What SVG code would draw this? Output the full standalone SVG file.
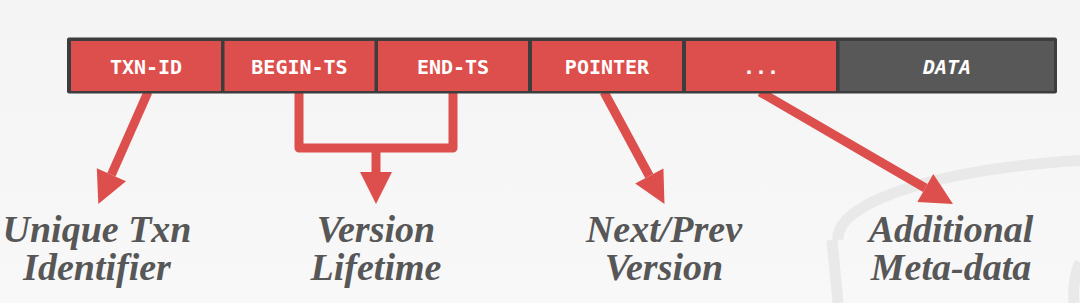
<svg xmlns="http://www.w3.org/2000/svg" width="1080" height="303" viewBox="0 0 1080 303">
  <defs>
    <linearGradient id="bg" x1="0" y1="0" x2="0" y2="1">
      <stop offset="0" stop-color="#f4f4f4"/>
      <stop offset="1" stop-color="#f8f8f8"/>
    </linearGradient>
    <style>
      .cell { fill: #dd4f4c; }
      .dark { fill: #585858; }
      .ctext { font-family: "DejaVu Sans Mono", "Liberation Mono", monospace; font-weight: bold; font-size: 20px; fill: #ffffff; text-anchor: middle; }
      .label { font-family: "Liberation Serif", "DejaVu Serif", serif; font-weight: bold; font-style: italic; font-size: 38px; fill: #575757; text-anchor: middle; }
      .wire { fill: none; stroke: #dd4f4c; stroke-width: 9; }
      .head { fill: #dd4f4c; }
      .wm { fill: none; stroke: #e9e9e9; stroke-width: 11; }
    </style>
  </defs>

  <rect width="1080" height="303" fill="url(#bg)"/>

  <!-- faint background watermark -->
  <g id="watermark">
    <path d="M832,240 L838,303" class="wm"/>
    <path d="M838,240 A315,80 0 0 1 1090,160" class="wm"/>
    <path d="M1080,262 Q1072,280 1074,303" class="wm" stroke-width="8"/>
  </g>

  <g id="connectors">
    <line x1="148" y1="92" x2="111.4" y2="174.8" class="wire"/>
    <polygon points="126,181.3 96.8,168.3 98.3,204" class="head"/>

    <path d="M299,92 V148 H453 V92" class="wire" stroke-width="10" stroke-linejoin="round"/>
    <line x1="376" y1="148" x2="376" y2="174" class="wire" stroke-width="10"/>
    <polygon points="360,172 392,172 376,204" class="head"/>

    <line x1="604" y1="92" x2="649.3" y2="176" class="wire"/>
    <polygon points="635.2,183.6 663.4,168.4 664.5,204" class="head"/>

    <line x1="760" y1="92" x2="925.3" y2="188" class="wire"/>
    <polygon points="917.3,201.9 933.3,174.1 953,204" class="head"/>
  </g>

  <g id="record">
    <rect x="67" y="37.5" width="990" height="56" rx="2" fill="#3d3d3d"/>
    <g id="txn-id">
      <rect x="71" y="41" width="150" height="50" class="cell"/>
      <text x="146" y="74" class="ctext">TXN-ID</text>
    </g>
    <g id="begin-ts">
      <rect x="224.5" y="41" width="150" height="50" class="cell"/>
      <text x="299.5" y="74" class="ctext">BEGIN-TS</text>
    </g>
    <g id="end-ts">
      <rect x="378" y="41" width="150" height="50" class="cell"/>
      <text x="453" y="74" class="ctext">END-TS</text>
    </g>
    <g id="pointer">
      <rect x="532" y="41" width="150" height="50" class="cell"/>
      <text x="607" y="74" class="ctext">POINTER</text>
    </g>
    <g id="more">
      <rect x="686" y="41" width="150" height="50" class="cell"/>
      <text x="761" y="74" class="ctext">...</text>
    </g>
    <g id="data">
      <rect x="839.5" y="41" width="214.5" height="50" class="dark"/>
      <text x="947" y="74" class="ctext" font-style="italic">DATA</text>
    </g>
  </g>

  <g id="label-txn">
    <text x="97" y="242" class="label">Unique Txn</text>
    <text x="97" y="280" class="label">Identifier</text>
  </g>
  <g id="label-lifetime">
    <text x="376" y="242" class="label">Version</text>
    <text x="376" y="280" class="label">Lifetime</text>
  </g>
  <g id="label-version">
    <text x="664" y="242" class="label">Next/Prev</text>
    <text x="664" y="280" class="label">Version</text>
  </g>
  <g id="label-meta">
    <text x="951" y="242" class="label">Additional</text>
    <text x="951" y="280" class="label">Meta-data</text>
  </g>
</svg>
